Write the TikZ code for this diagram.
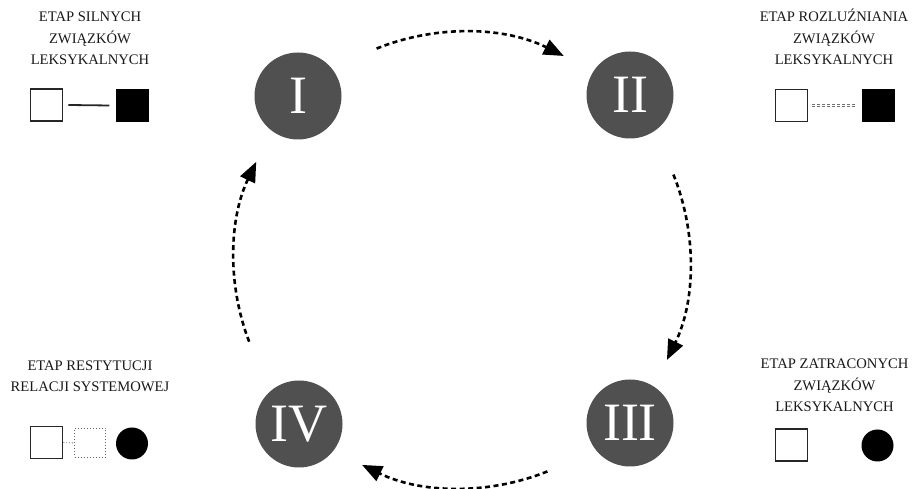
\documentclass[tikz,border=0pt]{standalone}
\usepackage{fontspec}
\setmainfont{Liberation Serif}
\usetikzlibrary{arrows.meta,calc}
\tikzset{
  stage/.style={circle, fill=stagegray, minimum size=87pt, inner sep=0pt, text=white, font=\fontsize{54}{54}\selectfont},
  label/.style={align=center, inner sep=0pt, font=\fontsize{14.6}{21.5}\selectfont, text=black!90},
  wsq/.style={draw=black!85, line width=1.8pt, fill=white, minimum size=32pt, inner sep=0pt},
  bsq/.style={fill=black, minimum size=33pt, inner sep=0pt},
  bdot/.style={circle, fill=black, minimum size=32pt, inner sep=0pt},
  dsq/.style={draw=black!60, dotted, line width=1pt, minimum width=31pt, minimum height=29pt, inner sep=0pt},
  flow/.style={line width=2.6pt, dash pattern=on 5pt off 3.5pt, -{Triangle[length=20pt,width=16pt]}},
}
\definecolor{stagegray}{RGB}{80,80,80}
\begin{document}
\begin{tikzpicture}[x=1pt,y=1pt]
\useasboundingbox (0,0) rectangle (913,489);
% stage circles
\node[stage] (I) at (298,393) {I};
\node[stage] (II) at (630,394) {II};
\node[stage] (III) at (630,66) {III};
\node[stage] (IV) at (299,65) {IV};
% cycle arrows
\coordinate (c) at (462,229);
\coordinate (s1) at ($(c)+(112:228)$);
\coordinate (s2) at ($(c)+(22:228)$);
\coordinate (s3) at ($(c)+(-68:228)$);
\coordinate (s4) at ($(c)+(201:228)$);
\draw[flow] (s1) arc[start angle=112, end angle=63.5, radius=228];
\draw[flow] (s2) arc[start angle=22, end angle=-26, radius=228];
\draw[flow] (s3) arc[start angle=-68, end angle=-116, radius=228];
\draw[flow] (s4) arc[start angle=201, end angle=154.5, radius=228];
% labels (base anchor = last line)
\node[label, anchor=base] (tl) at (90,424) {ETAP SILNYCH\\ZWIĄZKÓW\\LEKSYKALNYCH};
\node[label, anchor=base] (tr) at (834,424) {ETAP ROZLUŹNIANIA\\ZWIĄZKÓW\\LEKSYKALNYCH};
\node[label, anchor=base] (bl) at (90,97) {ETAP RESTYTUCJI\\RELACJI SYSTEMOWEJ};
\node[label, anchor=base] (br) at (834.5,77) {ETAP ZATRACONYCH\\ZWIĄZKÓW\\LEKSYKALNYCH};
% top-left symbols
\node[wsq] (tlw) at (46.5,384) {};
\node[bsq] (tlb) at (132,383.5) {};
\draw[line width=1.8pt, black!85] ([xshift=5pt]tlw.east) -- ([xshift=-6pt]tlb.west);
% top-right symbols
\node[wsq] (trw) at (791.5,383.5) {};
\node[bsq] (trb) at (878,383.5) {};
\draw[black!55, line width=0.7pt, dash pattern=on 3pt off 2pt] ([xshift=4pt,yshift=1.2pt]trw.east) -- ([xshift=-4pt,yshift=1.2pt]trb.west);
\draw[black!55, line width=0.7pt, dash pattern=on 3pt off 2pt] ([xshift=4pt,yshift=-1.2pt]trw.east) -- ([xshift=-4pt,yshift=-1.2pt]trb.west);
% bottom-left symbols
\node[wsq] (blw) at (46.5,46.5) {};
\node[dsq] (bld) at (90,46) {};
\node[bdot] (blb) at (132,45.5) {};
\draw[black!55, dotted, line width=0.9pt] (blw.east) -- (bld.west);
% bottom-right symbols
\node[wsq] (brw) at (791.5,44) {};
\node[bdot] (brb) at (877.5,43.5) {};
\end{tikzpicture}
\end{document}
